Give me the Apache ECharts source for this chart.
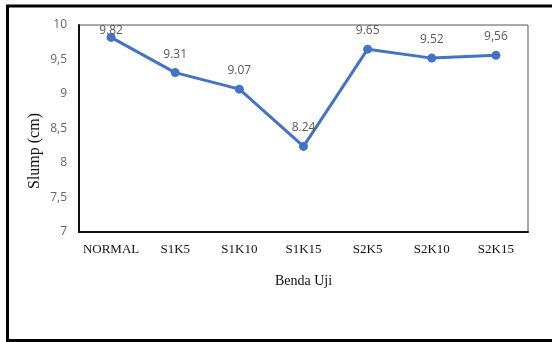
<!DOCTYPE html>
<html>
<head>
<meta charset="utf-8">
<script src="https://cdn.jsdelivr.net/npm/echarts@6/dist/echarts.min.js"></script>
<style>
  html, body { margin: 0; padding: 0; background: #ffffff; }
  #chart { width: 552px; height: 342px; }
</style>
</head>
<body>
<div id="chart"></div>
<script>
// Slump test results per specimen
const categories = ['NORMAL', 'S1K5', 'S1K10', 'S1K15', 'S2K5', 'S2K10', 'S2K15'];
const slumpValues = [9.82, 9.31, 9.07, 8.24, 9.65, 9.52, 9.56];
const valueLabels = ['9.82', '9.31', '9.07', '8.24', '9.65', '9.52', '9,56'];
const yTicks = [7, 7.5, 8, 8.5, 9, 9.5, 10];

const chart = echarts.init(document.getElementById('chart'), null, { renderer: 'canvas' });

const grid = { left: 79, top: 25, right: 24, bottom: 110 };

// the first label sits tight against the top of the plot, overlapping its marker
const seriesData = slumpValues.map(function (v, i) {
  return i === 0 ? { value: v, label: { offset: [0, 12] } } : v;
});

chart.setOption({
  animation: false,
  backgroundColor: '#ffffff',
  grid: Object.assign({ show: true, borderColor: '#555555', borderWidth: 1 }, grid),
  xAxis: {
    type: 'category',
    data: categories,
    name: 'Benda Uji',
    nameLocation: 'middle',
    nameGap: 42,
    nameTextStyle: { fontFamily: 'Liberation Serif', fontSize: 14, color: '#111111' },
    axisLine: { lineStyle: { color: '#111111', width: 2 } },
    axisTick: { alignWithLabel: true, length: 4, lineStyle: { color: '#333333', width: 1 } },
    axisLabel: { interval: 0, fontFamily: 'Liberation Serif', fontSize: 13, color: '#111111', margin: 11 }
  },
  yAxis: {
    type: 'value',
    min: 7,
    max: 10,
    interval: 0.5,
    axisLine: { show: true, lineStyle: { color: '#111111', width: 2 } },
    axisTick: { show: false },
    splitLine: { show: false },
    axisLabel: {
      fontFamily: 'Open Sans',
      fontSize: 12,
      color: '#666666',
      margin: 12,
      formatter: function (v) {
        const t = yTicks.find(function (x) { return Math.abs(x - v) < 1e-9; });
        return t === undefined ? '' : String(t).replace('.', ',');
      }
    }
  },
  series: [{
    type: 'line',
    data: seriesData,
    symbol: 'circle',
    symbolSize: 9,
    lineStyle: { color: '#4472C4', width: 3 },
    itemStyle: { color: '#4472C4' },
    label: {
      show: true,
      position: 'top',
      distance: 8,
      fontFamily: 'Open Sans',
      fontSize: 12,
      color: '#595959',
      formatter: function (p) { return valueLabels[p.dataIndex]; }
    }
  }],
  graphic: [
    // outer frame: top, left and bottom edges
    { type: 'line', shape: { x1: 6, y1: 6, x2: 552, y2: 6 }, style: { stroke: '#000000', lineWidth: 3 } },
    { type: 'line', shape: { x1: 7.5, y1: 5, x2: 7.5, y2: 341 }, style: { stroke: '#000000', lineWidth: 3 } },
    { type: 'line', shape: { x1: 6, y1: 340.5, x2: 552, y2: 340.5 }, style: { stroke: '#000000', lineWidth: 3 } },
    // vertical axis title
    {
      type: 'text',
      x: 35,
      y: 151,
      rotation: Math.PI / 2,
      style: {
        text: 'Slump (cm)',
        fontFamily: 'Liberation Serif',
        fontSize: 16,
        fill: '#111111',
        align: 'center',
        verticalAlign: 'middle'
      }
    }
  ]
});
</script>
</body>
</html>
